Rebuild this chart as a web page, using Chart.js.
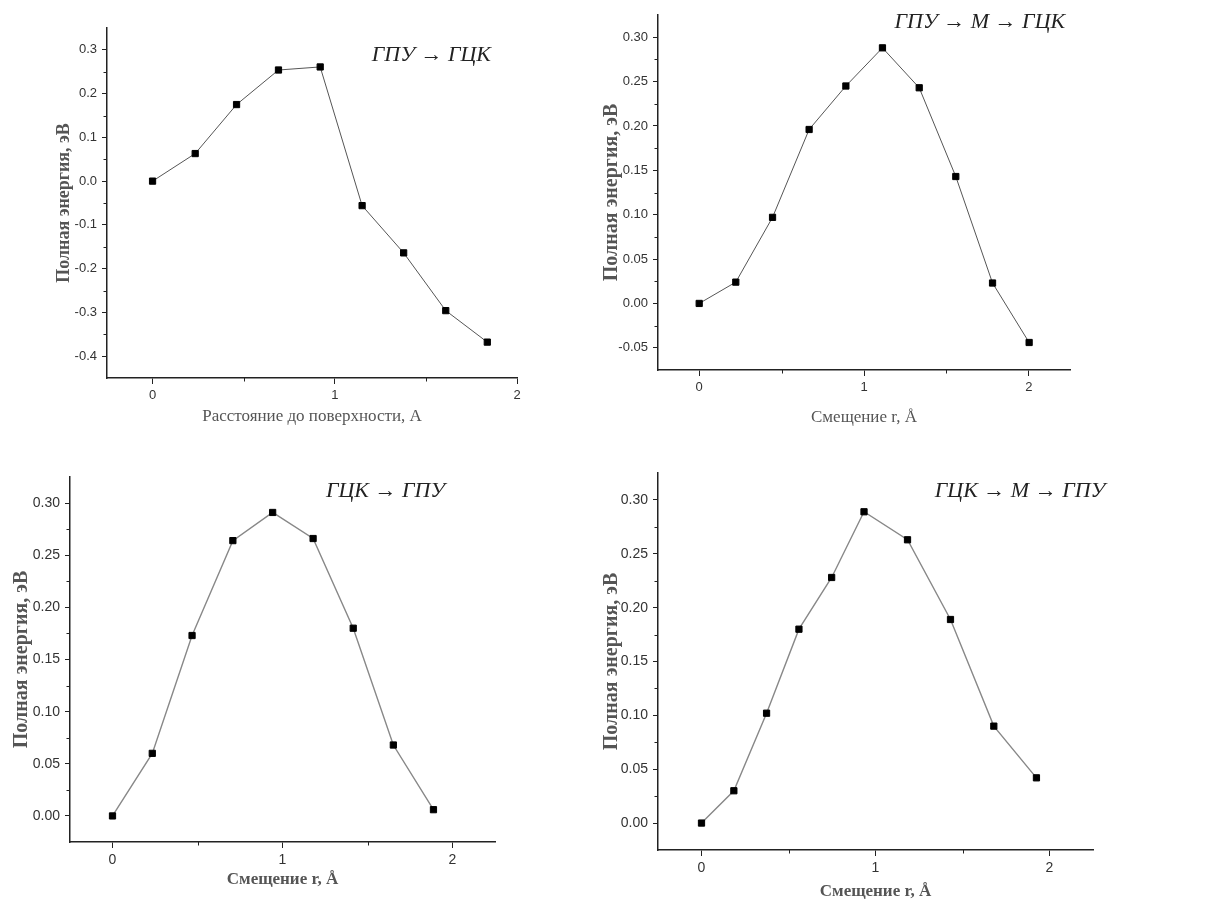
<!DOCTYPE html>
<html>
<head>
<meta charset="utf-8">
<script src="https://cdn.jsdelivr.net/npm/chart.js@4"></script>
<style>
  body { margin: 0; background: #fff; }
  #wrap { position: relative; width: 1206px; height: 904px; }
  canvas { position: absolute; }
</style>
</head>
<body>
<div id="wrap">
  <canvas id="c1" width="600" height="450" style="left:0;top:0"></canvas>
  <canvas id="c2" width="606" height="450" style="left:600px;top:0"></canvas>
  <canvas id="c3" width="600" height="454" style="left:0;top:450px"></canvas>
  <canvas id="c4" width="606" height="454" style="left:600px;top:450px"></canvas>
</div>
<script>
// Total energy along the transition paths (eV vs displacement, Å)
const hcpFccX = [0, 0.234, 0.461, 0.691, 0.920, 1.150, 1.378, 1.609, 1.837];
const hcpFccE = [0, 0.063, 0.175, 0.254, 0.261, -0.056, -0.164, -0.296, -0.368];

const hcpMFccX = [0, 0.222, 0.445, 0.667, 0.890, 1.112, 1.335, 1.557, 1.780, 2.002];
const hcpMFccE = [0, 0.024, 0.097, 0.196, 0.245, 0.288, 0.243, 0.143, 0.023, -0.044];

const fccHcpX = [0, 0.234, 0.468, 0.708, 0.942, 1.180, 1.416, 1.652, 1.888];
const fccHcpE = [0, 0.060, 0.173, 0.264, 0.291, 0.266, 0.180, 0.068, 0.006];

const fccMHcpX = [0, 0.186, 0.374, 0.560, 0.748, 0.934, 1.184, 1.431, 1.680, 1.925];
const fccMHcpE = [0, 0.030, 0.102, 0.180, 0.228, 0.289, 0.263, 0.189, 0.090, 0.042];

// labelled tick values
const xTicks = [0, 1, 2];
const yTicksWide = [-0.4, -0.3, -0.2, -0.1, 0, 0.1, 0.2, 0.3];
const yTicksNeg = [-0.05, 0, 0.05, 0.10, 0.15, 0.20, 0.25, 0.30];
const yTicksPos = [0, 0.05, 0.10, 0.15, 0.20, 0.25, 0.30];

const Y_TITLE = 'Полная энергия, эВ';
const X_TITLE_SHIFT = 'Смещение r, Å';
const X_TITLE_DIST = 'Расстояние до поверхности, А';

// short outward ticks halfway between the labelled ones
const minorTicks = {
  id: 'minorTicks',
  afterDraw(chart) {
    const ctx = chart.ctx;
    ctx.save();
    ctx.strokeStyle = '#222';
    ctx.lineWidth = 1;
    for (const id of ['x', 'y']) {
      const s = chart.scales[id];
      const vals = s.ticks.map(t => t.value);
      if (vals.length < 2) continue;
      const half = (vals[1] - vals[0]) / 2;
      const minors = [];
      vals.forEach(v => { minors.push(v - half); minors.push(v + half); });
      const eps = half * 1e-3;
      [...new Set(minors.map(v => +v.toFixed(6)))]
        .filter(v => v > s.min + eps && v < s.max - eps)
        .forEach(v => {
          const p = Math.round(s.getPixelForValue(v)) + 0.5;
          ctx.beginPath();
          if (id === 'x') {
            ctx.moveTo(p, chart.chartArea.bottom);
            ctx.lineTo(p, chart.chartArea.bottom + 3.5);
          } else {
            ctx.moveTo(chart.chartArea.left, p);
            ctx.lineTo(chart.chartArea.left - 3.5, p);
          }
          ctx.stroke();
        });
    }
    ctx.restore();
  }
};

// path name written inside the plot, placed in data coordinates
const pathLabel = {
  id: 'pathLabel',
  afterDatasetsDraw(chart, args, opts) {
    const ctx = chart.ctx;
    ctx.save();
    ctx.font = 'italic 22px "Liberation Serif", "DejaVu Serif", serif';
    ctx.fillStyle = '#222';
    ctx.textAlign = 'center';
    ctx.textBaseline = 'middle';
    ctx.fillText(opts.text,
      chart.scales.x.getPixelForValue(opts.x),
      chart.scales.y.getPixelForValue(opts.y));
    ctx.restore();
  }
};

function makePanel(id, p) {
  const area = p.area; // left, top, right, bottom inside the canvas
  const canvas = document.getElementById(id);
  const W = canvas.width, H = canvas.height;
  const tickFont = { family: p.tickFamily, size: p.tickSize };
  return new Chart(canvas, {
    type: 'scatter',
    data: {
      datasets: [{
        data: p.xs.map((x, i) => ({ x, y: p.ys[i] })),
        showLine: true,
        borderColor: p.lineColor,
        borderWidth: p.lineWidth,
        pointStyle: 'rect',
        pointRadius: 4.4,
        pointBackgroundColor: '#000',
        pointBorderColor: '#000',
        pointBorderWidth: 1,
        pointHoverRadius: 4.4,
      }],
    },
    options: {
      responsive: false,
      animation: false,
      layout: { padding: { left: 0, top: area[1], right: W - area[2], bottom: 0 } },
      plugins: {
        legend: { display: false },
        tooltip: { enabled: false },
        pathLabel: p.label,
      },
      scales: {
        x: {
          type: 'linear',
          min: -0.25, max: p.xMax,
          afterBuildTicks: s => { s.ticks = xTicks.map(v => ({ value: v })); },
          afterFit: s => { s.height = H - area[3]; },
          grid: { drawOnChartArea: false, tickLength: 6, tickColor: '#222', tickWidth: 1 },
          border: { color: '#222', width: 1.5 },
          ticks: { color: '#333', font: tickFont, padding: 4 },
          title: {
            display: true, text: p.xTitle, color: '#555',
            font: { family: '"Liberation Serif", serif', size: 17, weight: p.xWeight },
            padding: { top: 0, bottom: p.xTitlePad },
          },
        },
        y: {
          min: p.yMin, max: p.yMax,
          afterBuildTicks: s => { s.ticks = p.yTicks.map(v => ({ value: v })); },
          afterFit: s => { s.width = area[0]; },
          grid: { drawOnChartArea: false, tickLength: 5, tickColor: '#222', tickWidth: 1 },
          border: { color: '#222', width: 1.5 },
          ticks: {
            color: '#333', font: tickFont, padding: 5,
            callback: v => (Math.abs(v) < 1e-9 ? 0 : v).toFixed(p.yDec),
          },
          title: {
            display: true, text: Y_TITLE, color: '#555',
            font: { family: '"Liberation Serif", serif', size: p.yTitleSize, weight: 'bold' },
            padding: { top: p.yTitlePad, bottom: 0 },
          },
        },
      },
    },
    plugins: [minorTicks, pathLabel],
  });
}

makePanel('c1', {
  xs: hcpFccX, ys: hcpFccE, yTicks: yTicksWide,
  area: [107, 28, 517, 378],
  xMax: 2, yMin: -0.45, yMax: 0.35, yDec: 1,
  tickFamily: '"Liberation Sans", Arial, sans-serif', tickSize: 13,
  lineColor: '#555', lineWidth: 1,
  xTitle: X_TITLE_DIST, xWeight: 'normal', xTitlePad: 23,
  yTitleSize: 18, yTitlePad: 54,
  label: { text: 'ГПУ → ГЦК', x: 1.53, y: 0.287 },
});

makePanel('c2', {
  xs: hcpMFccX, ys: hcpMFccE, yTicks: yTicksNeg,
  area: [58, 15, 470, 370],
  xMax: 2.25, yMin: -0.075, yMax: 0.325, yDec: 2,
  tickFamily: '"Liberation Sans", Arial, sans-serif', tickSize: 13,
  lineColor: '#555', lineWidth: 1,
  xTitle: X_TITLE_SHIFT, xWeight: 'normal', xTitlePad: 22,
  yTitleSize: 20, yTitlePad: 0,
  label: { text: 'ГПУ → М → ГЦК', x: 1.703, y: 0.317 },
});

makePanel('c3', {
  xs: fccHcpX, ys: fccHcpE, yTicks: yTicksPos,
  area: [70, 27, 495, 392],
  xMax: 2.25, yMin: -0.025, yMax: 0.325, yDec: 2,
  tickFamily: '"Liberation Sans Narrow", "Liberation Sans", Arial, sans-serif', tickSize: 14,
  lineColor: '#888', lineWidth: 1.4,
  xTitle: X_TITLE_SHIFT, xWeight: 'bold', xTitlePad: 14,
  yTitleSize: 20, yTitlePad: 10,
  label: { text: 'ГЦК → ГПУ', x: 1.606, y: 0.311 },
});

makePanel('c4', {
  xs: fccMHcpX, ys: fccMHcpE, yTicks: yTicksPos,
  area: [58, 23, 493, 400],
  xMax: 2.25, yMin: -0.025, yMax: 0.325, yDec: 2,
  tickFamily: '"Liberation Sans Narrow", "Liberation Sans", Arial, sans-serif', tickSize: 14,
  lineColor: '#888', lineWidth: 1.4,
  xTitle: X_TITLE_SHIFT, xWeight: 'bold', xTitlePad: 2,
  yTitleSize: 20, yTitlePad: 0,
  label: { text: 'ГЦК → М → ГПУ', x: 1.831, y: 0.308 },
});
</script>
</body>
</html>
